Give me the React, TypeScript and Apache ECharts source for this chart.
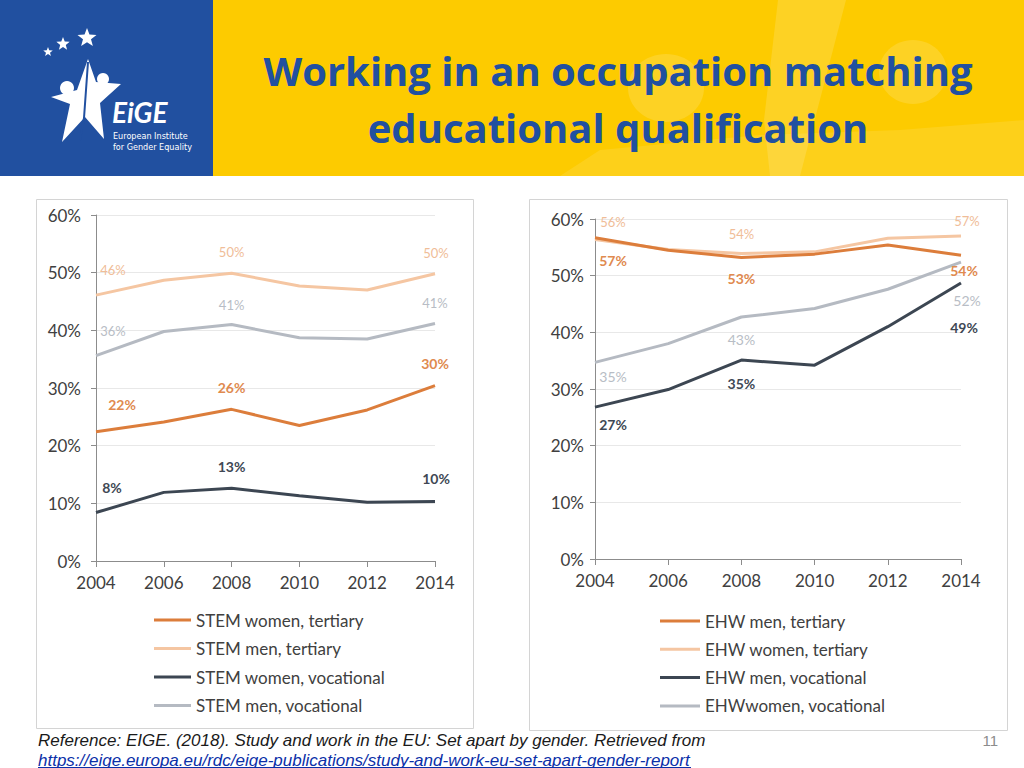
import React, { useEffect, useRef } from "react";
import * as echarts from "echarts";

const YEARS = ["2004", "2006", "2008", "2010", "2012", "2014"];
const LABELLED = [0, 2, 5];

// STEM (left chart)
const STEM_WOMEN_TERTIARY = [22.4, 24.1, 26.3, 23.5, 26.2, 30.4];
const STEM_MEN_TERTIARY = [46.1, 48.7, 49.9, 47.7, 47.0, 49.8];
const STEM_WOMEN_VOCATIONAL = [8.4, 11.9, 12.6, 11.3, 10.2, 10.3];
const STEM_MEN_VOCATIONAL = [35.6, 39.8, 41.0, 38.7, 38.5, 41.2];

// EHW (right chart)
const EHW_MEN_TERTIARY = [56.7, 54.5, 53.2, 53.8, 55.4, 53.6];
const EHW_WOMEN_TERTIARY = [56.4, 54.6, 53.9, 54.2, 56.6, 57.0];
const EHW_MEN_VOCATIONAL = [26.8, 29.9, 35.1, 34.2, 41.0, 48.7];
const EHW_WOMEN_VOCATIONAL = [34.7, 38.0, 42.7, 44.2, 47.6, 52.4];

const TITLE_LINES = ["Working in an occupation matching", "educational qualification"];
const REFERENCE_TEXT =
  "Reference: EIGE. (2018). Study and work in the EU: Set apart by gender. Retrieved from";
const REFERENCE_LINK =
  "https://eige.europa.eu/rdc/eige-publications/study-and-work-eu-set-apart-gender-report";
const PAGE_NUMBER = "11";

const ORANGE = "#DC7D3B";
const PEACH = "#F5C6A2";
const DARK = "#3C4652";
const GRAY = "#B5BAC2";
const BLUE = "#2150A0";
const YELLOW = "#FDCB00";
const FONT = "Lato, 'Open Sans', sans-serif";
const TITLE_FONT = "'Open Sans', 'Noto Sans', sans-serif";
const NARROW = "'Liberation Sans Narrow', 'Liberation Sans', Arial, sans-serif";

type Off = [number, number];

function makeSeries(
  name: string,
  values: number[],
  color: string,
  g: number,
  labelColor: string,
  labelWeight: string,
  offsets: Off[],
  fontSize: number,
  z: number
) {
  return {
    type: "line",
    name,
    xAxisIndex: g,
    yAxisIndex: g,
    symbol: "circle",
    symbolSize: 0,
    showSymbol: true,
    showAllSymbol: true,
    z,
    lineStyle: { color, width: 3 },
    itemStyle: { color },
    emphasis: { disabled: true },
    label: {
      show: false,
      position: "inside",
      color: labelColor,
      fontSize,
      fontWeight: labelWeight,
      fontFamily: FONT,
      formatter: (p: any) => Math.round(p.value) + "%",
    },
    data: values.map((v, i) => {
      const k = LABELLED.indexOf(i);
      return k >= 0
        ? { value: v, label: { show: true, offset: offsets[k] } }
        : { value: v };
    }),
  };
}

function axisPair(g: number) {
  return {
    x: {
      type: "category",
      gridIndex: g,
      data: YEARS,
      boundaryGap: false,
      axisLine: { show: true, lineStyle: { color: "#8C8C8C", width: 1 } },
      axisTick: { show: true, length: 6, lineStyle: { color: "#8C8C8C" } },
      axisLabel: { fontSize: 17, color: "#404040", margin: 13, fontFamily: FONT },
      splitLine: { show: false },
    },
    y: {
      type: "value",
      gridIndex: g,
      min: 0,
      max: 60,
      interval: 10,
      axisLine: { show: true, lineStyle: { color: "#8C8C8C", width: 1 } },
      axisTick: { show: true, length: 5, lineStyle: { color: "#8C8C8C" } },
      axisLabel: {
        fontSize: 17,
        color: "#404040",
        margin: g === 0 ? 15 : 11,
        fontFamily: FONT,
        formatter: "{value}%",
      },
      splitLine: { show: true, lineStyle: { color: "#E8E8E8", width: 1 } },
    },
  };
}

function starPoints(cx: number, cy: number, r: number) {
  const pts: number[][] = [];
  for (let i = 0; i < 10; i++) {
    const a = -Math.PI / 2 + (i * Math.PI) / 5;
    const rr = i % 2 === 0 ? r : r * 0.42;
    pts.push([cx + rr * Math.cos(a), cy + rr * Math.sin(a)]);
  }
  return pts;
}

export default function App() {
  const ref = useRef<HTMLDivElement>(null);

  useEffect(() => {
    document.body.style.margin = "0";
    if (!ref.current) return;
    const chart = echarts.init(ref.current, undefined, { renderer: "svg" });
    const a0 = axisPair(0);
    const a1 = axisPair(1);

    const legendText = { fontSize: 17, color: "#404040", fontFamily: FONT, lineHeight: 18 };

    const option: any = {
      animation: false,
      backgroundColor: "#FFFFFF",
      grid: [
        { left: 96, right: 1024 - 435, top: 215, bottom: 768 - 561 },
        { left: 595, right: 1024 - 961, top: 219, bottom: 768 - 559 },
      ],
      xAxis: [a0.x, a1.x],
      yAxis: [a0.y, a1.y],
      legend: [
        {
          orient: "vertical",
          left: 154,
          top: 611,
          padding: 0,
          itemWidth: 37,
          itemHeight: 3,
          itemGap: 10.5,
          icon: "rect",
          textStyle: legendText,
          selectedMode: false,
          data: [
            "STEM women, tertiary",
            "STEM men, tertiary",
            "STEM women, vocational",
            "STEM men, vocational",
          ],
        },
        {
          orient: "vertical",
          left: 660,
          top: 612,
          padding: 0,
          itemWidth: 40,
          itemHeight: 3,
          itemGap: 10.3,
          icon: "rect",
          textStyle: legendText,
          selectedMode: false,
          data: [
            "EHW men, tertiary",
            "EHW women, tertiary",
            "EHW men, vocational",
            "EHWwomen, vocational",
          ],
        },
      ],
      series: [
        makeSeries("STEM men, tertiary", STEM_MEN_TERTIARY, PEACH, 0, "#F0BD98", "normal",
          [[17, -25], [0, -21], [1, -21]], 13, 3),
        makeSeries("STEM men, vocational", STEM_MEN_VOCATIONAL, GRAY, 0, "#B8BDC5", "normal",
          [[17, -25], [0, -20], [0, -20]], 13, 3),
        makeSeries("STEM women, tertiary", STEM_WOMEN_TERTIARY, ORANGE, 0, "#E08A4F", "bold",
          [[26, -27], [0, -22], [0, -22]], 14, 4),
        makeSeries("STEM women, vocational", STEM_WOMEN_VOCATIONAL, DARK, 0, "#404854", "bold",
          [[16, -25], [0, -22], [1, -23]], 14, 4),

        makeSeries("EHW women, tertiary", EHW_WOMEN_TERTIARY, PEACH, 1, "#F0BD98", "normal",
          [[18, -17], [0, -20], [6, -15]], 13, 3),
        makeSeries("EHWwomen, vocational", EHW_WOMEN_VOCATIONAL, GRAY, 1, "#B8BDC5", "normal",
          [[18, 14], [0, 22], [6, 38]], 14, 3),
        makeSeries("EHW men, tertiary", EHW_MEN_TERTIARY, ORANGE, 1, "#E08A4F", "bold",
          [[18, 23], [0, 21], [3, 15]], 14, 4),
        makeSeries("EHW men, vocational", EHW_MEN_VOCATIONAL, DARK, 1, "#404854", "bold",
          [[18, 17], [0, 23], [3, 44]], 14, 4),
      ],
      graphic: [
        // header backgrounds
        { type: "rect", shape: { x: 213, y: 0, width: 811, height: 176 }, style: { fill: YELLOW }, z: 0 },
        { type: "ellipse", shape: { cx: 666, cy: 88, rx: 38, ry: 34 }, style: { fill: "rgba(255,255,255,0.14)" }, z: 1 },
        { type: "ellipse", shape: { cx: 913, cy: 72, rx: 34, ry: 32 }, style: { fill: "rgba(255,255,255,0.14)" }, z: 1 },
        {
          type: "polygon",
          shape: { points: [[778, 0], [846, 0], [800, 176], [770, 176], [764, 120]] },
          style: { fill: "rgba(255,255,255,0.14)" },
          z: 1,
        },
        {
          type: "polygon",
          shape: { points: [[560, 176], [600, 150], [760, 135], [900, 130], [1024, 120], [1024, 176]] },
          style: { fill: "rgba(255,255,255,0.10)" },
          z: 1,
        },
        { type: "rect", shape: { x: 0, y: 0, width: 213, height: 176 }, style: { fill: BLUE }, z: 2 },
        // logo stars
        { type: "polygon", shape: { points: starPoints(48, 52, 5) }, style: { fill: "#FFFFFF" }, z: 3 },
        { type: "polygon", shape: { points: starPoints(63, 44, 7) }, style: { fill: "#FFFFFF" }, z: 3 },
        { type: "polygon", shape: { points: starPoints(87, 38, 10) }, style: { fill: "#FFFFFF" }, z: 3 },
        {
          type: "polygon",
          shape: {
            points: [
              [88, 59], [96, 82], [121, 84], [100, 103], [104, 139],
              [85, 117], [62, 142], [70, 104], [51, 97], [77, 90],
            ],
          },
          style: { fill: "#FFFFFF" },
          z: 3,
        },
        {
          type: "polyline",
          shape: { points: [[88, 62], [86, 90], [84, 118], [80, 140]] },
          style: { stroke: BLUE, lineWidth: 2, fill: "none" },
          z: 4,
        },
        { type: "circle", shape: { cx: 67, cy: 88, r: 7 }, style: { fill: "#FFFFFF" }, z: 3 },
        { type: "circle", shape: { cx: 103, cy: 79, r: 6 }, style: { fill: "#FFFFFF" }, z: 3 },
        {
          type: "text",
          style: {
            text: "EiGE", x: 112, y: 112, fill: "#FFFFFF", fontSize: 28, fontWeight: "bold",
            fontStyle: "italic", fontFamily: FONT, verticalAlign: "middle",
          },
          z: 3,
        },
        {
          type: "text",
          style: {
            text: "European Institute\nfor Gender Equality", x: 113, y: 130, fill: "#FFFFFF",
            fontSize: 9, lineHeight: 11, fontFamily: "'Liberation Sans Narrow', 'DejaVu Sans Condensed', sans-serif",
          },
          z: 3,
        },
        // title
        {
          type: "text",
          style: {
            text: TITLE_LINES[0], x: 618, y: 70, fill: BLUE, fontSize: 40, fontWeight: "bold",
            fontFamily: TITLE_FONT, align: "center", verticalAlign: "middle",
          },
          z: 5,
        },
        {
          type: "text",
          style: {
            text: TITLE_LINES[1], x: 618, y: 127, fill: BLUE, fontSize: 40, fontWeight: "bold",
            fontFamily: TITLE_FONT, align: "center", verticalAlign: "middle",
          },
          z: 5,
        },
        // chart panels
        {
          type: "rect",
          shape: { x: 36.5, y: 199.5, width: 437, height: 529 },
          style: { fill: "#FFFFFF", stroke: "#D4D4D4", lineWidth: 1 },
          z: 0,
        },
        {
          type: "rect",
          shape: { x: 529.5, y: 199.5, width: 478, height: 531 },
          style: { fill: "#FFFFFF", stroke: "#D4D4D4", lineWidth: 1 },
          z: 0,
        },
        // footer
        {
          type: "text",
          style: {
            text: REFERENCE_TEXT, x: 38, y: 740, fill: "#1A1A1A", fontSize: 17, fontStyle: "italic",
            fontFamily: NARROW, verticalAlign: "middle",
          },
          z: 5,
        },
        {
          type: "text",
          style: {
            text: REFERENCE_LINK, x: 38, y: 760, fill: "#0B2FA8", fontSize: 17, fontStyle: "italic",
            fontFamily: NARROW, verticalAlign: "middle",
          },
          z: 5,
        },
        {
          type: "line",
          shape: { x1: 38, y1: 767.5, x2: 691, y2: 767.5 },
          style: { stroke: "#0B2FA8", lineWidth: 1 },
          z: 5,
        },
        {
          type: "text",
          style: {
            text: PAGE_NUMBER, x: 998, y: 740, fill: "#8C8C8C", fontSize: 15,
            fontFamily: NARROW, align: "right", verticalAlign: "middle",
          },
          z: 5,
        },
      ],
    };
    chart.setOption(option);
    return () => chart.dispose();
  }, []);

  return <div ref={ref} style={{ width: 1024, height: 768 }} />;
}
